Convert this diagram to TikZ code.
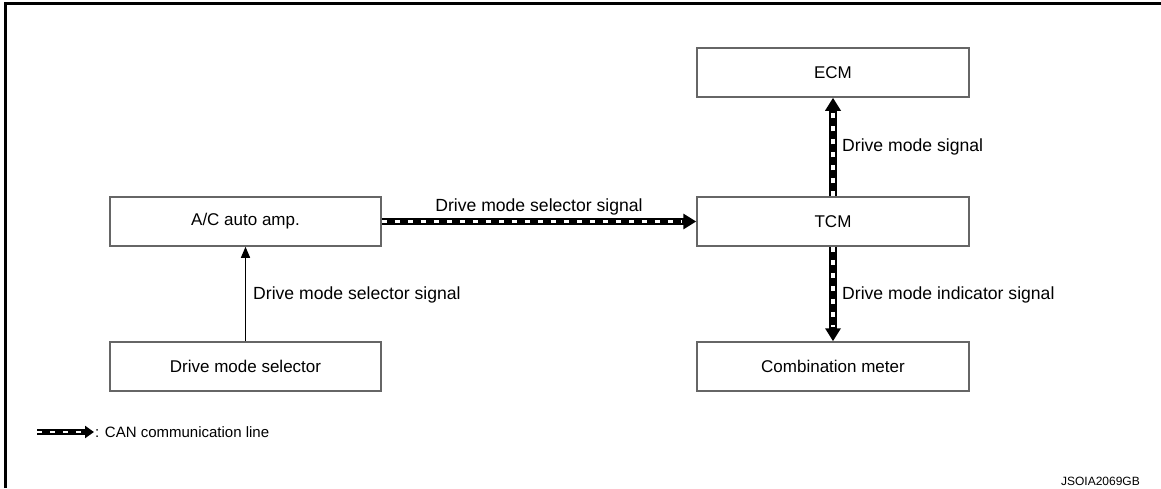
\documentclass[tikz,border=0pt]{standalone}
\usepackage{fontspec}
\setmainfont{Liberation Sans}
\usetikzlibrary{arrows.meta}
\begin{document}
\begin{tikzpicture}[x=1pt,y=-1pt,
  box/.style={draw=black!60, line width=1.5pt, minimum width=272pt, minimum height=49pt, inner sep=0pt, font=\fontsize{17}{20}\selectfont},
  lbl/.style={font=\fontsize{17.6}{20}\selectfont, inner sep=0pt},
  canline/.style={line width=7.5pt, -{Triangle[length=13pt,width=15pt]},
    postaction={draw=white, line width=3.8pt, dash pattern=on 5pt off 8pt, -, shorten >=14pt}},
  canlegend/.style={line width=6pt, -{Triangle[length=9pt,width=12pt]},
    postaction={draw=white, line width=2.5pt, dash pattern=on 5pt off 8pt, -, shorten >=10pt}},
  thinarrow/.style={line width=1.3pt, -{Triangle[length=11pt,width=9pt]}}
]
\useasboundingbox (0,0) rectangle (1161,488);
% frame
\draw[line width=3pt] (5.5,488) -- (5.5,3.5) -- (1161,3.5);
% boxes
\node[box] (ecm) at (833,72.5) {ECM};
\node[box] (tcm) at (833,221.5) {TCM};
\node[box, minimum width=271pt] (ac) at (245.5,221.5) {A/C auto amp.};
\node[box, minimum width=271pt] (dms) at (245.5,366.5) {Drive mode selector};
\node[box] (cm) at (833,366.5) {Combination meter};
% connectors
\draw[canline] (ac.east) -- (tcm.west);
\node[lbl, anchor=base] (l1) at (539,211) {Drive mode selector signal};
\draw[canline] (tcm.north) -- (ecm.south);
\node[lbl, anchor=west] (l2) at (842,147) {Drive mode signal};
\draw[canline] (tcm.south) -- (cm.north);
\node[lbl, anchor=west] (l3) at (842,295) {Drive mode indicator signal};
\draw[thinarrow] (dms.north) -- (ac.south);
\node[lbl, anchor=west] (l4) at (253,295) {Drive mode selector signal};
% legend
\coordinate (lga) at (37,432);
\coordinate (lgb) at (94,432);
\draw[canlegend] (lga) -- (lgb);
\node[anchor=west, inner sep=0pt, font=\fontsize{15}{18}\selectfont] (lgt) at (95,432) {: CAN communication line};
% id
\node[anchor=base east, inner sep=0pt, font=\fontsize{12}{15}\selectfont] (id) at (1140,485) {JSOIA2069GB};
\end{tikzpicture}
\end{document}
